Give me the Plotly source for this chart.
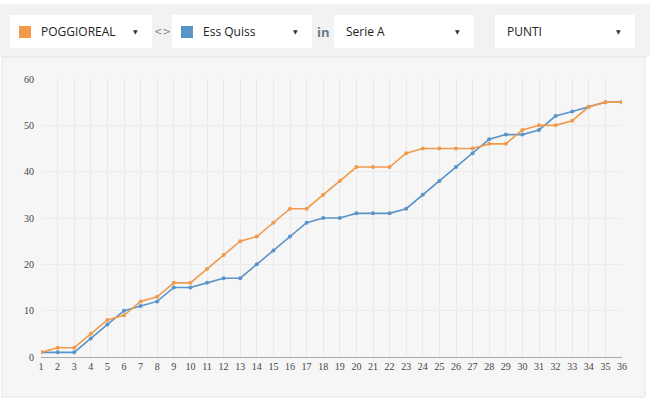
import plotly.graph_objects as go

W, H = 650, 402

giornate = list(range(1, 37))
poggioreal = [1, 2, 2, 5, 8, 9, 12, 13, 16, 16, 19, 22, 25, 26, 29, 32, 32, 35,
              38, 41, 41, 41, 44, 45, 45, 45, 45, 46, 46, 49, 50, 50, 51, 54, 55, 55]
ess_quiss = [1, 1, 1, 4, 7, 10, 11, 12, 15, 15, 16, 17, 17, 20, 23, 26, 29, 30,
             30, 31, 31, 31, 32, 35, 38, 41, 44, 47, 48, 48, 49, 52, 53, 54, 55, 55]
y_ticks = [0, 10, 20, 30, 40, 50, 60]

ORANGE = "#f19a4c"
BLUE = "#5a93c8"


def px(x):
    return x / W


def py(y):
    return 1 - y / H


fig = go.Figure()
fig.add_trace(go.Scatter(x=giornate, y=ess_quiss, mode="lines+markers",
                         line=dict(color=BLUE, width=1.6),
                         marker=dict(size=4, color=BLUE), name="Ess Quiss"))
fig.add_trace(go.Scatter(x=giornate, y=poggioreal, mode="lines+markers",
                         line=dict(color=ORANGE, width=1.6),
                         marker=dict(size=4, color=ORANGE), name="POGGIOREAL"))

shapes = [
    # top bar
    dict(type="rect", xref="paper", yref="paper", x0=0, x1=1, y0=py(57), y1=py(4),
         fillcolor="#f2f2f2", line=dict(width=0), layer="below"),
    # chart panel
    dict(type="rect", xref="paper", yref="paper", x0=px(2), x1=px(645), y0=py(397), y1=py(57),
         fillcolor="#f6f6f6", line=dict(color="#e4e4e4", width=1), layer="below"),
]
annotations = []

boxes = [(10, 152, "POGGIOREAL", ORANGE), (172, 312, "Ess Quiss", BLUE),
         (334, 474, "Serie A", None), (495, 635, "PUNTI", None)]
for x0, x1, label, col in boxes:
    shapes.append(dict(type="rect", xref="paper", yref="paper", x0=px(x0), x1=px(x1),
                       y0=py(48), y1=py(15), fillcolor="white", line=dict(width=0),
                       layer="below"))
    tx = x0 + 10
    if col:
        shapes.append(dict(type="rect", xref="paper", yref="paper", x0=px(x0 + 9),
                           x1=px(x0 + 21), y0=py(38), y1=py(26), fillcolor=col,
                           line=dict(width=0)))
        tx = x0 + 29
    annotations.append(dict(x=px(tx), y=py(32), xref="paper", yref="paper", text=label,
                            showarrow=False, xanchor="left", yanchor="middle",
                            font=dict(family="Open Sans", size=12, color="#222")))
    annotations.append(dict(x=px(x1 - 17), y=py(31), xref="paper", yref="paper", text="▼",
                            showarrow=False, xanchor="center", yanchor="middle",
                            font=dict(family="DejaVu Sans", size=6, color="#333")))

annotations.append(dict(x=px(163), y=py(31), xref="paper", yref="paper", text="&lt;&gt;",
                        showarrow=False, xanchor="center", yanchor="middle",
                        font=dict(family="DejaVu Sans", size=10, color="#888")))
annotations.append(dict(x=px(323), y=py(32), xref="paper", yref="paper", text="<b>in</b>",
                        showarrow=False, xanchor="center", yanchor="middle",
                        font=dict(family="Open Sans", size=13, color="#6a7a8a")))

fig.update_layout(
    autosize=True,
    margin=dict(l=0, r=0, t=0, b=0, autoexpand=False),
    paper_bgcolor="white", plot_bgcolor="#f6f6f6",
    showlegend=False,
    shapes=shapes, annotations=annotations,
    font=dict(family="Liberation Serif", size=10, color="#444"),
    xaxis=dict(domain=[px(41), px(622)], range=[1, 36], tickvals=giornate,
               showgrid=True, gridcolor="#e9e9e9", gridwidth=1, zeroline=False,
               showline=True, linecolor="#aaaaaa", linewidth=1, ticks="",
               tickfont=dict(family="Liberation Serif", size=10, color="#444"),
               automargin=False, fixedrange=True),
    yaxis=dict(domain=[py(357), py(79)], range=[0, 60], tickvals=y_ticks,
               showgrid=True, gridcolor="#ececec", gridwidth=1, zeroline=False,
               showline=False, ticks="", ticklabelstandoff=6,
               tickfont=dict(family="Liberation Serif", size=10, color="#444"),
               automargin=False, fixedrange=True),
)

# let the figure fill the browser window with no page margin or scrollbars
fill_window = """
var s = document.documentElement.style; s.height = '100%'; s.overflow = 'hidden';
var b = document.body.style; b.margin = '0'; b.height = '100%'; b.overflow = 'hidden';
var gd = document.getElementById('{plot_id}');
gd.parentNode.style.height = '100%';
Plotly.Plots.resize(gd);
"""
fig.write_html("out.html", default_width="100%", default_height="100%",
               config={"displayModeBar": False, "responsive": True},
               post_script=fill_window)
